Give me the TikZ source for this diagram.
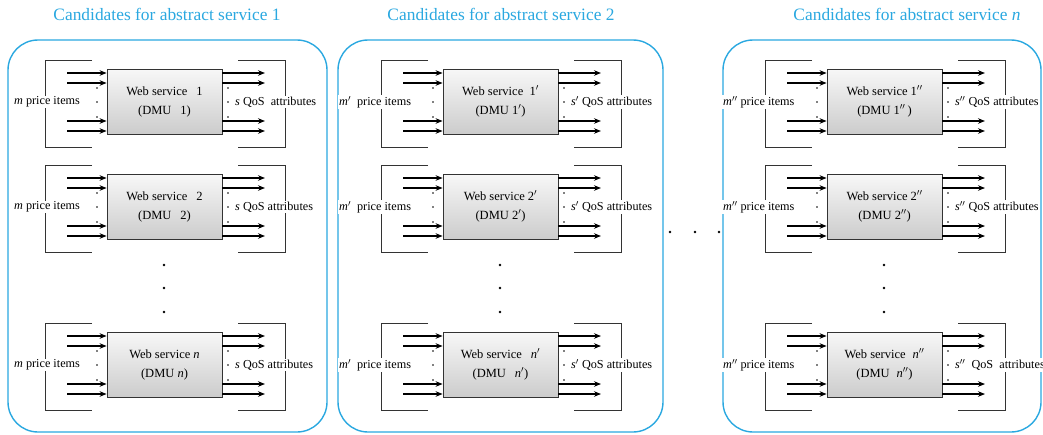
\documentclass[tikz,border=0pt]{standalone}
\usepackage{fontspec}
\setmainfont{Liberation Serif}
\usetikzlibrary{arrows.meta,calc}
\definecolor{panelblue}{HTML}{2AA8E0}
\definecolor{brk}{HTML}{333333}
\tikzset{
  panel/.style={draw=panelblue, line width=1.4pt, rounded corners=30pt},
  ttl/.style={text=panelblue, font=\fontsize{17.4}{20}\selectfont, inner sep=0pt},
  wsbox/.style={draw=brk, line width=0.8pt, top color=gray!6, bottom color=gray!40,
    minimum width=115pt, minimum height=65pt, align=center, inner sep=0pt,
    font=\fontsize{12.5}{19}\selectfont},
  flow/.style={line width=1.3pt, -{Stealth[length=7pt,width=5.5pt]}},
  bracket/.style={draw=brk, line width=0.8pt},
  lbl/.style={fill=white, inner sep=1pt, font=\fontsize{12.2}{14}\selectfont},
  dotm/.style={fill=black},
}
% #1 name, #2 x offset, #3 y top, #4 box text, #5 left label, #6 left label x, #7 right label
\newcommand\wsblock[7]{%
\begin{scope}[shift={(#2,#3)}]
  \node[wsbox] (#1) at (164.5,32.5) {#4};
  \foreach \k/\yy in {a/4,b/14,c/52,d/62}{
    \coordinate (#1in\k) at (67,\yy);
    \coordinate (#1out\k) at (265,\yy);
    \draw[flow] (#1in\k) -- (#1in\k -| #1.west);
    \draw[flow] (#1in\k -| #1.east) -- (#1out\k);
  }
  \draw[bracket] (92,-9) -| (45,78) -- (92,78);
  \draw[bracket] (238,-9) -| (285,78) -- (238,78);
  \foreach \yy in {19,33,48}{
    \fill[dotm] (97,\yy) circle (0.9pt);
    \fill[dotm] (228,\yy) circle (0.9pt);
  }
  \node[lbl, anchor=west] (#1l) at (#6,33) {#5};
  \node[lbl, anchor=west] (#1r) at (234,33) {#7};
\end{scope}}
\begin{document}
\begin{tikzpicture}[x=1pt,y=-1pt]
\useasboundingbox (0,0) rectangle (1043,434);
% panels
\draw[panel] (8,40) rectangle (327,432);
\draw[panel] (338,40) rectangle (663,432);
\draw[panel] (723,40) rectangle (1041,432);
% titles
\node[ttl] (t1) at (167,14) {Candidates for abstract service 1};
\node[ttl] (t2) at (501,14) {Candidates for abstract service 2};
\node[ttl] (t3) at (907,14) {Candidates for abstract service \textit{n}};
% panel 1
\wsblock{a1}{0}{69}{Web service\hspace{9pt}1\\(DMU\hspace{9pt}1)}{\textit{m} price items}{13}{\textit{s} QoS\ \ attributes}
\wsblock{a2}{0}{174}{Web service\hspace{9pt}2\\(DMU\hspace{9pt}2)}{\textit{m} price items}{13}{\textit{s} QoS attributes}
\wsblock{an}{0}{332}{Web service \textit{n}\\(DMU \textit{n})}{\textit{m} price items}{13}{\textit{s} QoS attributes}
% panel 2
\wsblock{b1}{336}{69}{Web service\ \ 1$'$\\(DMU 1$'$)}{\textit{m}$'$\ \ price items}{2}{\textit{s}$'$ QoS attributes}
\wsblock{b2}{336}{174}{Web service 2$'$\\(DMU 2$'$)}{\textit{m}$'$\ \ price items}{2}{\textit{s}$'$ QoS attributes}
\wsblock{bn}{336}{332}{Web service\hspace{9pt}\textit{n}$'$\\(DMU\hspace{9pt}\textit{n}$'$)}{\textit{m}$'$\ \ price items}{2}{\textit{s}$'$ QoS attributes}
% panel 3
\wsblock{c1}{720}{69}{Web service 1$''$\\(DMU 1$''$\,)}{\textit{m}$''$ price items}{2}{\textit{s}$''$ QoS attributes}
\wsblock{c2}{720}{174}{Web service 2$''$\\(DMU 2$''$)}{\textit{m}$''$ price items}{2}{\textit{s}$''$ QoS attributes}
\wsblock{cn}{720}{332}{Web service\hspace{7pt}\textit{n}$''$\\(DMU\hspace{7pt}\textit{n}$''$)}{\textit{m}$''$ price items}{2}{\textit{s}$''$\ \ QoS\ \ attributes}
% vertical ellipses
\foreach \xx in {164,500,884}{
  \foreach \yy in {265,288,312}{
    \fill (\xx,\yy) circle (1.3pt);
  }
}
% horizontal ellipsis between panels
\foreach \xx in {670,695,719}{
  \fill (\xx,232) circle (1.3pt);
}
\end{tikzpicture}
\end{document}
